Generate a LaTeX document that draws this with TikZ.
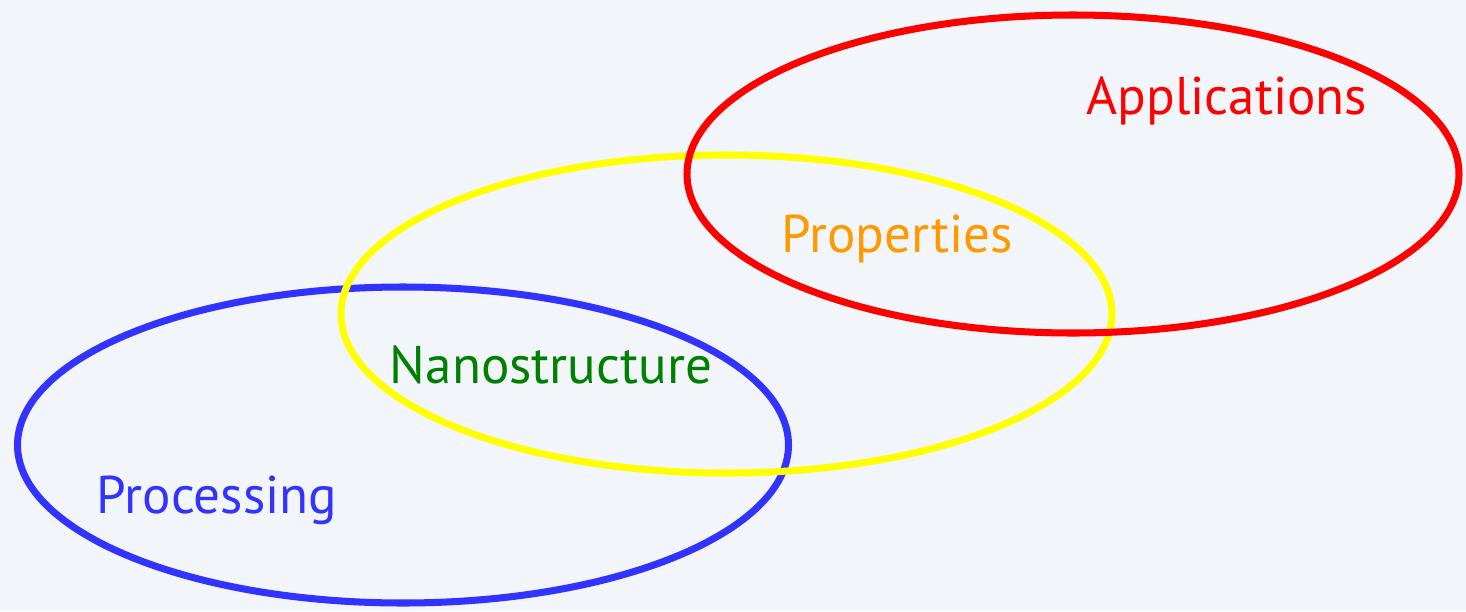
\documentclass[tikz,border=0pt]{standalone}
\usepackage{fontspec}
\setmainfont{PT Sans}
\definecolor{bgcol}{HTML}{F2F5FA}
\definecolor{proccol}{HTML}{3333FF}
\definecolor{nanocol}{HTML}{008000}
\definecolor{propcol}{HTML}{FF9900}
\definecolor{appcol}{HTML}{FF0000}
\definecolor{ringcol}{HTML}{FFFF00}
\tikzset{
  ring/.style = {line width = 2pt},
  label/.style = {anchor = base, inner sep = 0pt, font = \fontsize{15.1}{18}\selectfont}
}
\begin{document}
\begin{tikzpicture}
\fill[bgcol] (0, 0) rectangle (14.66, 6.11);
\useasboundingbox (0, 0) rectangle (14.66, 6.11);
% the three rings
\draw[ring, proccol] (4.03, 1.66) ellipse (3.855 and 1.58);
\draw[ring, ringcol] (7.265, 2.97) ellipse (3.855 and 1.59);
\draw[ring, appcol] (10.73, 4.37) ellipse (3.86 and 1.59);
% labels
\node[label, text = appcol] (app) at (12.27, 4.97) {Applications};
\node[label, text = propcol] (prop) at (8.97, 3.59) {Properties};
\node[label, text = nanocol] (nano) at (5.51, 2.28) {Nanostructure};
\node[label, text = proccol] (proc) at (2.17, 0.98) {Processing};
\end{tikzpicture}
\end{document}
